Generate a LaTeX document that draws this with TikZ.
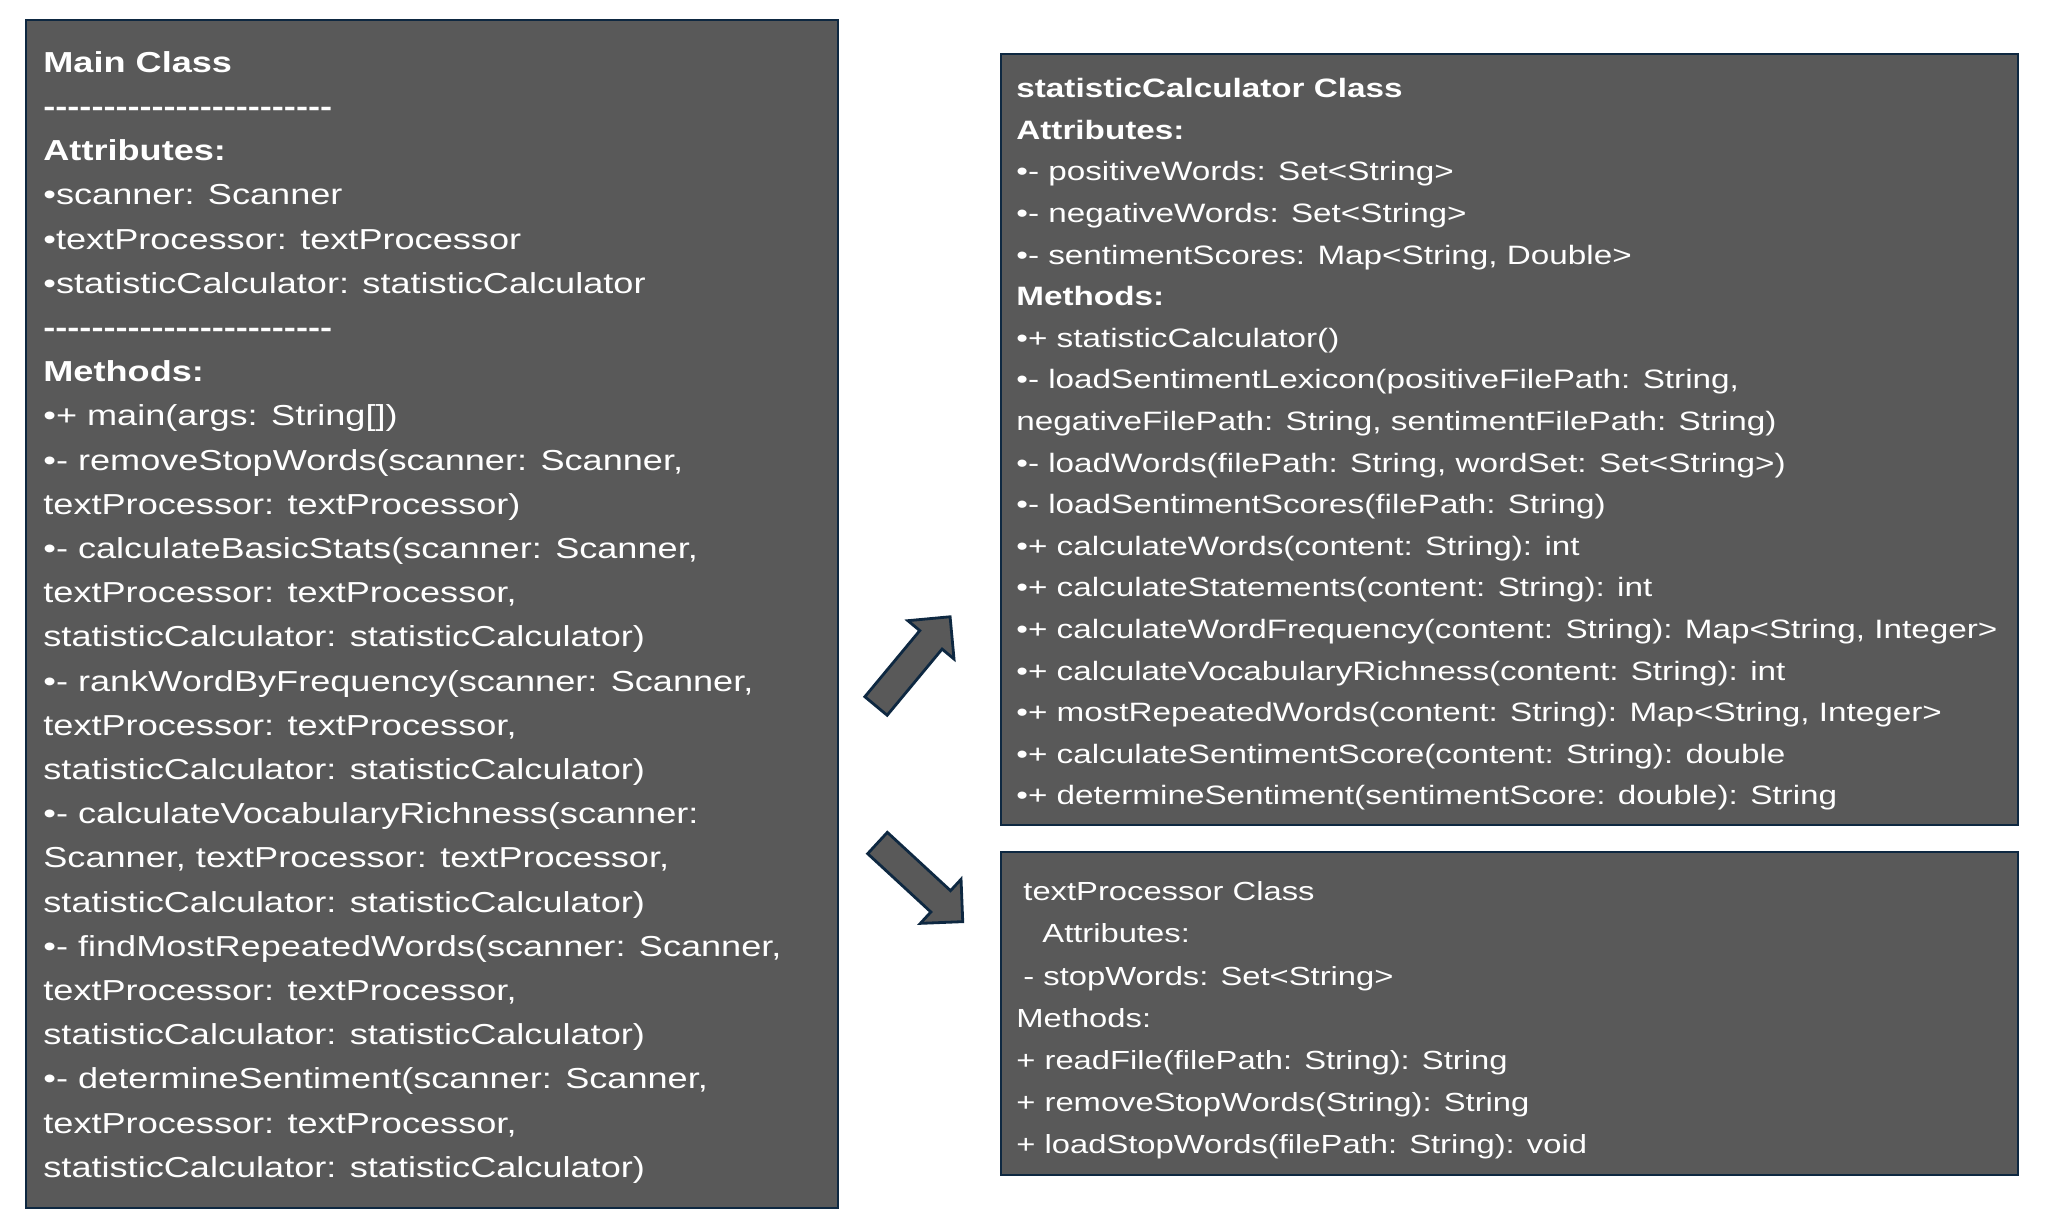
\documentclass[tikz,border=0pt]{standalone}
\usepackage{fontspec}
\setmainfont[FakeStretch=1.25]{Liberation Sans}
\usepackage{xcolor}
\definecolor{BoxFill}{RGB}{89,89,89}
\definecolor{BoxEdge}{RGB}{14,40,65}
\usetikzlibrary{positioning}

\newcommand{\dashrow}{-{}-{}-{}-{}-{}-{}-{}-{}-{}-{}-{}-{}-{}-{}-{}-{}-{}-{}-{}-{}-{}-{}-{}-}

\begin{document}
\begin{tikzpicture}[
    x=0.5pt, y=0.5pt,
    every node/.style={text=white},
    classbox/.style={rectangle, draw=BoxEdge, fill=BoxFill, line width=1.4pt, outer sep=0pt, inner sep=0pt, anchor=north west},
    classtext/.style={inner sep=0pt, align=left},
    bigtext/.style={classtext, font=\fontsize{14.45pt}{22.1pt}\selectfont},
    smalltext/.style={classtext, font=\fontsize{13.3pt}{20.8pt}\selectfont},
    arrowbody/.style={draw=BoxEdge, fill=BoxFill, line width=1.4pt, line join=miter},
    blockarrow/.pic={
        \draw[arrowbody] (0,-14.5) -- (86,-14.5) -- (86,-30) -- (116,0) -- (86,30) -- (86,14.5) -- (0,14.5) -- cycle;
    },
]
\useasboundingbox (0,0) rectangle (2056,-1226);

% Class boxes
\node[classbox, minimum width=406pt, minimum height=594pt] (mainBox) at (26,-20) {};
\node[classbox, minimum width=508.5pt, minimum height=385.5pt] (statBox) at (1001,-54) {};
\node[classbox, minimum width=508.5pt, minimum height=161.5pt] (procBox) at (1001,-852) {};

% Main class
\node[bigtext, below right=15.5pt and 8.5pt of mainBox.north west] (mainText) {
    \rule{0pt}{10pt}\textbf{Main Class}\\
    \textbf{\dashrow}\\
    \textbf{Attributes:}\\
    •scanner: Scanner\\
    •textProcessor: textProcessor\\
    •statisticCalculator: statisticCalculator\\
    \textbf{\dashrow}\\
    \textbf{Methods:}\\
    •+ main(args: String[])\\
    •- removeStopWords(scanner: Scanner,\\
    textProcessor: textProcessor)\\
    •- calculateBasicStats(scanner: Scanner,\\
    textProcessor: textProcessor,\\
    statisticCalculator: statisticCalculator)\\
    •- rankWordByFrequency(scanner: Scanner,\\
    textProcessor: textProcessor,\\
    statisticCalculator: statisticCalculator)\\
    •- calculateVocabularyRichness(scanner:\\
    Scanner, textProcessor: textProcessor,\\
    statisticCalculator: statisticCalculator)\\
    •- findMostRepeatedWords(scanner: Scanner,\\
    textProcessor: textProcessor,\\
    statisticCalculator: statisticCalculator)\\
    •- determineSentiment(scanner: Scanner,\\
    textProcessor: textProcessor,\\
    statisticCalculator: statisticCalculator)
};

% statisticCalculator class
\node[smalltext, below right=12pt and 7.5pt of statBox.north west] (statText) {
    \rule{0pt}{9pt}\textbf{statisticCalculator Class}\\
    \textbf{Attributes:}\\
    •- positiveWords: Set<String>\\
    •- negativeWords: Set<String>\\
    •- sentimentScores: Map<String, Double>\\
    \textbf{Methods:}\\
    •+ statisticCalculator()\\
    •- loadSentimentLexicon(positiveFilePath: String,\\
    negativeFilePath: String, sentimentFilePath: String)\\
    •- loadWords(filePath: String, wordSet: Set<String>)\\
    •- loadSentimentScores(filePath: String)\\
    •+ calculateWords(content: String): int\\
    •+ calculateStatements(content: String): int\\
    •+ calculateWordFrequency(content: String): Map<String, Integer>\\
    •+ calculateVocabularyRichness(content: String): int\\
    •+ mostRepeatedWords(content: String): Map<String, Integer>\\
    •+ calculateSentimentScore(content: String): double\\
    •+ determineSentiment(sentimentScore: double): String
};

% textProcessor class
\node[smalltext, font=\fontsize{13.1pt}{21.1pt}\selectfont, below right=14.7pt and 7.5pt of procBox.north west] (procText) {
    \rule{0pt}{9pt}\hspace*{3.5pt}textProcessor Class\\
    \hspace*{13pt}Attributes:\\
    \hspace*{3.5pt}- stopWords: Set<String>\\
    Methods:\\
    + readFile(filePath: String): String\\
    + removeStopWords(String): String\\
    + loadStopWords(filePath: String): void
};

% Block arrows
\pic[rotate=50.3] (toStat) at (876,-706) {blockarrow};
\pic[rotate=-42.7] (toProc) at (877.5,-843) {blockarrow};

\end{tikzpicture}
\end{document}
